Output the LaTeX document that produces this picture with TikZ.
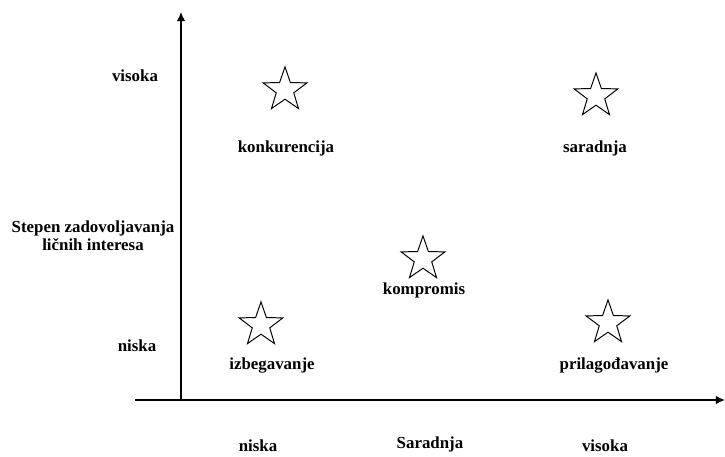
\documentclass[tikz,border=0pt]{standalone}
\usepackage{fontspec}
\setmainfont{Liberation Serif}
\usetikzlibrary{shapes.geometric, arrows.meta}
\begin{document}
\begin{tikzpicture}[x=0.025cm, y=-0.025cm, >={Latex[length=6.5pt, width=6pt]},
          font=\bfseries\fontsize{12}{13}\selectfont,
          zvezda/.style={draw, line width=0.7pt, star, star points=5, star point ratio=2.5,
                         minimum size=1.15cm, inner sep=0pt},
          oznaka/.style={inner sep=0pt, align=center}]
        \useasboundingbox (0,0) rectangle (725,457);
        % axes
        \coordinate (o) at (181,400);
        \coordinate (ytop) at (181,12);
        \coordinate (xl) at (135,400);
        \coordinate (xr) at (725,400);
        \draw[->, line width=0.9pt] (o) -- (ytop);
        \draw[->, line width=0.9pt] (xl) -- (xr);
        % stars with their labels
        \foreach \n/\sx/\sy/\lx/\ly/\txt in {konk/285/90/286/148/konkurencija,
            sar/596/96/595/148/saradnja, komp/423/259/424/290/kompromis,
            izb/261/325/272/366/izbegavanje, pril/608/323/614/366/prilagođavanje} {
          \node[zvezda] (s-\n) at (\sx,\sy) {};
          \node[oznaka] (l-\n) at (\lx,\ly) {\txt};
        }
        % axis labels
        \node[oznaka] (yvis) at (135,76) {visoka};
        \node[oznaka] (ynis) at (137,346) {niska};
        \node[oznaka] (ynaz) at (93,236) {Stepen zadovoljavanja\\ličnih interesa};
        \node[oznaka] (xnis) at (258,446) {niska};
        \node[oznaka] (xnaz) at (430,444) {Saradnja};
        \node[oznaka] (xvis) at (605,446) {visoka};
      \end{tikzpicture}
\end{document}
